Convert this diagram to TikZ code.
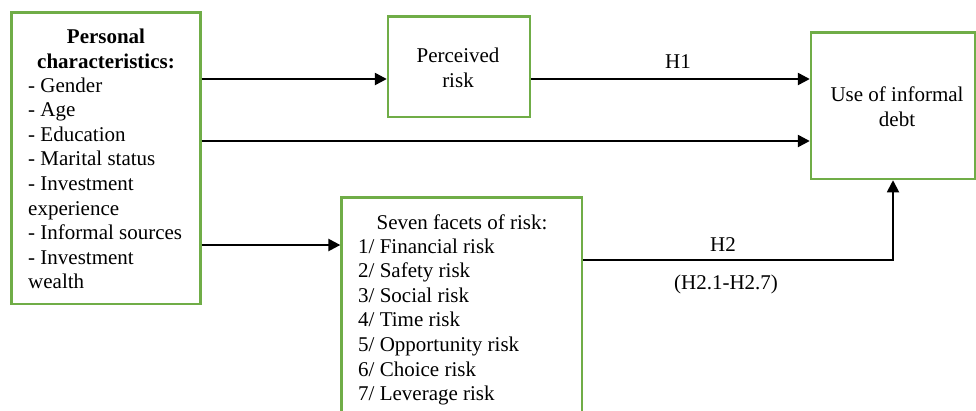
\documentclass[tikz,border=0pt]{standalone}
\usepackage{fontspec}
\setmainfont{Liberation Serif}
\usetikzlibrary{arrows.meta}
\definecolor{boxgreen}{HTML}{70AD47}
\begin{document}
\begin{tikzpicture}[x=1pt,y=-1pt,
  box/.style={draw=boxgreen,line width=2.4pt,inner sep=0pt},
  txt/.style={font=\fontsize{21}{24.6}\selectfont,inner sep=0pt},
  arr/.style={line width=2.4pt,-{Triangle[length=12pt,width=12pt]}},
  thinarr/.style={line width=1.8pt,-{Triangle[length=12pt,width=12pt]}}
]
\useasboundingbox (0,0) rectangle (976,410);
\clip (0,0) rectangle (976,410);
% boxes
\node[box,minimum width=189pt,minimum height=291.5pt] (pc) at (106,158.2) {};
\node[box,minimum width=142pt,minimum height=100.5pt] (pr) at (459,66.8) {};
\node[box,minimum width=164pt,minimum height=146.5pt] (use) at (893,105.8) {};
\node[box,minimum width=240.5pt,minimum height=240pt] (sf) at (461.8,317.5) {};
% texts (anchor base = baseline of the last line)
\node[txt,anchor=base,align=center] (pch) at (106,68) {\textbf{Personal}\\\textbf{characteristics:}};
\node[txt,anchor=base west,align=left] (pcl) at (28,288.8) {- Gender\\- Age\\- Education\\- Marital status\\- Investment\\experience\\- Informal sources\\- Investment\\wealth};
\node[txt,anchor=base,align=center] (prt) at (458,87) {Perceived\\risk};
\node[txt,anchor=base,align=center] (uset) at (897,126) {Use of informal\\debt};
\node[txt,anchor=base] (sfh) at (462,229) {Seven facets of risk:};
\node[txt,anchor=base west,align=left] (sfl) at (358,400.6) {1/ Financial risk\\2/ Safety risk\\3/ Social risk\\4/ Time risk\\5/ Opportunity risk\\6/ Choice risk\\7/ Leverage risk};
% connector levels
\coordinate (ya) at (0,79);
\coordinate (yb) at (0,141);
\coordinate (yc) at (0,245);
\coordinate (yd) at (0,260);
% connectors
\draw[arr] (pc.east |- ya) -- (pr.west |- ya);
\draw[arr] (pr.east |- ya) -- (use.west |- ya);
\draw[arr] (pc.east |- yb) -- (use.west |- yb);
\draw[arr] (pc.east |- yc) -- (sf.west |- yc);
\draw[thinarr] (sf.east |- yd) -| (use.south);
% labels
\node[txt,anchor=base] (h1) at (678,68) {H1};
\node[txt,anchor=base] (h2) at (723,251) {H2};
\node[txt,anchor=base] (h2s) at (726,289) {(H2.1-H2.7)};
\end{tikzpicture}
\end{document}
